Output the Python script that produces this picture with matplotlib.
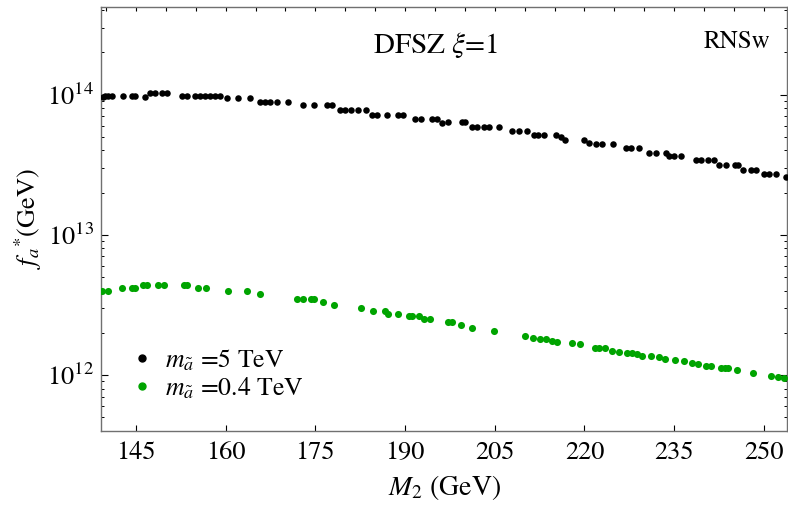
import matplotlib
matplotlib.use("Agg")
import matplotlib.pyplot as plt
import numpy as np
from matplotlib.ticker import LogLocator, NullFormatter
from matplotlib.lines import Line2D

plt.rcParams['font.family'] = ['STIXGeneral', 'DejaVu Serif']
plt.rcParams['mathtext.fontset'] = 'stix'

# m_a~ = 5 TeV (black)
m2_black = [139.5, 139.8, 140.3, 141.0, 142.9, 144.3, 144.8, 146.5, 147.4, 148.2,
            149.3, 150.2, 152.7, 153.5, 154.9, 155.7, 156.6, 157.4, 158.2, 159.1,
            160.2, 162.1, 164.1, 165.8, 166.6, 167.4, 168.6, 170.5, 173.0, 174.7,
            176.9, 177.8, 179.2, 180.0, 180.9, 182.2, 183.4, 184.5, 185.3, 187.0,
            188.9, 189.7, 191.7, 192.6, 194.5, 195.4, 196.2, 197.1, 199.6, 200.1,
            201.2, 202.1, 203.2, 204.0, 205.7, 207.9, 209.0, 210.4, 211.5, 212.3,
            213.2, 215.2, 216.0, 216.7, 219.9, 220.8, 221.9, 223.0, 224.7, 226.9,
            227.7, 229.1, 230.8, 231.9, 233.6, 234.2, 235.0, 236.1, 238.6, 239.5,
            240.6, 241.7, 242.5, 243.7, 245.1, 245.6, 246.5, 247.8, 248.7, 250.1,
            250.9, 252.0, 253.7]
fa_black_e13 = [9.6, 9.8, 9.8, 9.8, 9.8, 9.8, 9.8, 9.6, 10.2, 10.2,
                10.2, 10.2, 9.8, 9.8, 9.8, 9.8, 9.8, 9.8, 9.8, 9.8,
                9.5, 9.5, 9.5, 8.8, 8.8, 8.8, 8.8, 8.8, 8.35, 8.35,
                8.35, 8.35, 7.7, 7.7, 7.7, 7.7, 7.7, 7.2, 7.2, 7.2,
                7.2, 7.2, 6.7, 6.7, 6.7, 6.7, 6.3, 6.35, 6.35, 6.35,
                5.85, 5.85, 5.85, 5.85, 5.85, 5.45, 5.45, 5.45, 5.17, 5.17,
                5.17, 5.17, 5.0, 4.76, 4.76, 4.5, 4.46, 4.46, 4.46, 4.15,
                4.15, 4.15, 3.85, 3.85, 3.85, 3.62, 3.62, 3.62, 3.39, 3.39,
                3.39, 3.39, 3.13, 3.13, 3.13, 3.13, 2.91, 2.91, 2.91, 2.73,
                2.73, 2.73, 2.58]

# m_a~ = 0.4 TeV (green)
m2_green = [139.3, 140.4, 142.7, 144.3, 144.8, 146.2, 146.8, 148.7, 149.7, 153.1,
            153.5, 155.3, 156.7, 160.4, 163.6, 165.7, 171.9, 172.9, 174.3, 174.7,
            176.2, 178.2, 182.6, 184.7, 186.7, 187.1, 188.8, 190.6, 191.1, 192.4,
            193.1, 194.1, 197.1, 197.8, 199.4, 201.2, 204.8, 210.0, 211.4, 212.5,
            213.5, 214.5, 215.4, 217.9, 219.3, 221.7, 222.4, 223.4, 224.6, 225.8,
            227.1, 227.9, 228.8, 229.7, 231.2, 232.5, 233.4, 235.1, 236.7, 237.9,
            239.0, 240.3, 241.1, 242.9, 243.5, 244.0, 245.5, 248.1, 251.2, 252.3,
            253.4]
fa_green_e12 = [3.96, 3.96, 4.14, 4.14, 4.14, 4.35, 4.35, 4.35, 4.35, 4.35,
                4.35, 4.14, 4.14, 3.94, 3.94, 3.75, 3.46, 3.46, 3.46, 3.46,
                3.29, 3.15, 3.0, 2.85, 2.85, 2.72, 2.72, 2.64, 2.64, 2.64,
                2.52, 2.52, 2.40, 2.40, 2.27, 2.17, 2.07, 1.91, 1.85, 1.81,
                1.81, 1.75, 1.72, 1.68, 1.65, 1.56, 1.55, 1.55, 1.49, 1.47,
                1.43, 1.43, 1.41, 1.36, 1.36, 1.34, 1.31, 1.27, 1.25, 1.21,
                1.20, 1.16, 1.16, 1.13, 1.12, 1.12, 1.09, 1.04, 0.98, 0.97,
                0.95]

x_ticks = [145, 160, 175, 190, 205, 220, 235, 250]
top_ticks = list(range(140, 255, 5))

fa_black = np.array(fa_black_e13) * 1e13
fa_green = np.array(fa_green_e12) * 1e12

fig = plt.figure(figsize=(7.88, 5.08), dpi=100)
ax = fig.add_axes([0.128, 0.152, 0.871, 0.834])

green = '#00a400'
ax.scatter(m2_black, fa_black, s=22, color='black', linewidths=0, zorder=3)
ax.scatter(m2_green, fa_green, s=26, color=green, linewidths=0, zorder=3)

ax.set_yscale('log')
ax.set_xlim(139.14, 253.9)
ax.set_ylim(4.0e11, 4.2e14)

ax.set_xticks(x_ticks)
ax.set_xticklabels([str(t) for t in x_ticks])
ax.yaxis.set_major_locator(LogLocator(base=10, numticks=10))
ax.yaxis.set_minor_locator(LogLocator(base=10, subs=np.arange(2, 10), numticks=20))
ax.yaxis.set_minor_formatter(NullFormatter())

ax.tick_params(axis='both', which='both', direction='in', labelsize=19,
               color='black')
ax.tick_params(axis='x', which='major', length=4, width=0.8, top=False, pad=7)
ax.tick_params(axis='y', which='major', length=5, width=0.8, right=True, pad=5)
ax.tick_params(axis='y', which='minor', length=2.5, width=0.7, right=True)

sec = ax.secondary_xaxis('top')
sec.set_xticks(top_ticks)
sec.tick_params(direction='in', length=3, width=0.8, labeltop=False)
sec.spines['top'].set_visible(False)

for sp in ax.spines.values():
    sp.set_color('#707070')
    sp.set_linewidth(1.0)

ax.set_xlabel(r'$M_2$ (GeV)', fontsize=20, labelpad=6)
ax.set_ylabel(r'$f_{a}{}^{*}$(GeV)', fontsize=19, labelpad=2)

ax.text(0.487, 0.91, r'DFSZ $\xi$=1', transform=ax.transAxes, fontsize=21,
        ha='center', va='center')
ax.text(0.927, 0.918, 'RNSw', transform=ax.transAxes, fontsize=18,
        ha='center', va='center')

handles = [
    Line2D([], [], linestyle='none', marker='o', markersize=5, color='black'),
    Line2D([], [], linestyle='none', marker='o', markersize=5, color=green),
]
labels = [r'$m_{\tilde{a}}$ =5 TeV', r'$m_{\tilde{a}}$ =0.4 TeV']
ax.legend(handles, labels, loc='lower left', bbox_to_anchor=(0.03, 0.045),
          frameon=False, fontsize=18.5, handlelength=0.8, handletextpad=0.5,
          labelspacing=0.1, borderaxespad=0)

fig.savefig('out.png', dpi=100)
